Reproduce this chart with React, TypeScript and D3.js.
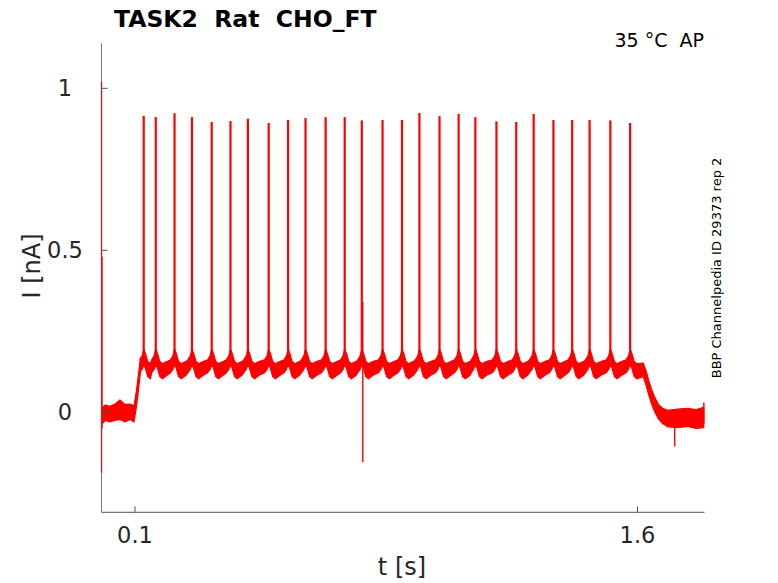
import React from 'react';
import * as d3 from 'd3';

// Spike train (t in s, peak current in nA)
const spikeTimes = [0.126, 0.162, 0.218, 0.270, 0.329, 0.385, 0.437, 0.499, 0.557, 0.609, 0.669, 0.726, 0.777, 0.839,
  0.897, 0.949, 1.009, 1.066, 1.116, 1.179, 1.238, 1.290, 1.349, 1.405, 1.457, 1.519, 1.578];
const spikePeaks = [0.915, 0.911, 0.923, 0.911, 0.896, 0.899, 0.906, 0.893, 0.902, 0.908, 0.911, 0.911, 0.901, 0.902,
  0.902, 0.924, 0.914, 0.921, 0.911, 0.898, 0.896, 0.921, 0.902, 0.902, 0.902, 0.901, 0.893];

// noisy band before the step: [t, upper, lower]
const preStep: [number, number, number][] = [
  [0.002, 0.015, -0.035], [0.012, 0.022, -0.025], [0.025, 0.018, -0.03], [0.04, 0.025, -0.025],
  [0.055, 0.038, -0.022], [0.07, 0.024, -0.03], [0.085, 0.025, -0.022], [0.097, 0.02, -0.03],
  [0.104, 0.065, 0.015], [0.110, 0.115, 0.065], [0.116, 0.165, 0.122],
];
// shape of the band around each spike: [dt from spike, upper, lower]
const ripple: [number, number, number][] = [
  [-0.012, 0.162, 0.122], [-0.005, 0.174, 0.132], [0, 0.195, 0.148], [0.005, 0.182, 0.136],
  [0.012, 0.157, 0.11], [0.02, 0.15, 0.103], [0.035, 0.157, 0.115],
];
// decay after the step
const postStep: [number, number, number][] = [
  [1.617, 0.152, 0.11], [1.625, 0.13, 0.085], [1.633, 0.1, 0.055], [1.642, 0.07, 0.025],
  [1.652, 0.045, 0.0], [1.662, 0.025, -0.02], [1.675, 0.012, -0.035], [1.69, 0.006, -0.045],
  [1.72, 0.01, -0.048], [1.75, 0.012, -0.044], [1.775, 0.008, -0.05], [1.798, 0.015, -0.048],
];
// artefacts: [t, from, to]
const glitches: [number, number, number][] = [
  [0.0, 1.02, -0.187], [0.0015, 0.48, -0.05], [0.780, 0.34, -0.154], [1.711, -0.02, -0.106], [1.798, 0.03, -0.035],
];

const xTicks = [0.1, 1.6];
const xTickLabels = ['0.1', '1.6'];
const yTicks = [0, 0.5, 1];
const yTickLabels = ['0', '0.5', '1'];

const font = '"DejaVu Sans", sans-serif';
const axisColor = '#555555';
const textColor = '#262626';

export default function App() {
  const x = d3.scaleLinear().domain([0, 1.8]).range([101.5, 704.5]);
  const y = d3.scaleLinear().domain([-0.309, 1.139]).range([512.3, 43.3]);

  // build the band from the pieces
  const band: [number, number, number][] = [...preStep];
  spikeTimes.forEach((s, i) => {
    const next = i < spikeTimes.length - 1 ? spikeTimes[i + 1] + ripple[0][0] : 1.612;
    ripple.forEach(([dt, up, lo]) => {
      const t = s + dt;
      if (t < next) band.push([t, up, lo]);
    });
  });
  band.push(...postStep);

  const area = d3.area<[number, number, number]>()
    .x(d => x(d[0]))
    .y0(d => y(d[2]))
    .y1(d => y(d[1]));

  return (
    <svg width={778} height={583} style={{ position: 'absolute', left: 0, top: 0, background: '#fff' }}>
      <path d={area(band) ?? ''} fill="#ff0000" stroke="#ff0000" strokeWidth={1.2} strokeLinejoin="round" />
      {spikeTimes.map((t, i) => (
        <line key={i} x1={x(t)} x2={x(t)} y1={y(0.17)} y2={y(spikePeaks[i])} stroke="#ff0000" strokeWidth={2.2} />
      ))}
      {glitches.map(([t, a, b], i) => (
        <line key={'g' + i} x1={x(t)} x2={x(t)} y1={y(a)} y2={y(b)} stroke="#ff0000" strokeWidth={1.4} />
      ))}

      {/* axes */}
      <line x1={x(0)} x2={x(0)} y1={y.range()[1]} y2={y.range()[0]} stroke={axisColor} strokeWidth={1} opacity={0.8} />
      <line x1={x(0)} x2={x(1.8)} y1={y.range()[0]} y2={y.range()[0]} stroke={axisColor} strokeWidth={1} />
      {yTicks.map((v, i) => (
        <g key={'y' + i}>
          <line x1={x(0)} x2={x(0) + 6} y1={y(v)} y2={y(v)} stroke={axisColor} />
          <text x={65} y={y(v)} dy="0.36em" textAnchor="middle" fontFamily={font} fontSize={22.5} fill={textColor}>
            {yTickLabels[i]}
          </text>
        </g>
      ))}
      {xTicks.map((v, i) => (
        <g key={'x' + i}>
          <line x1={x(v)} x2={x(v)} y1={y.range()[0]} y2={y.range()[0] - 6} stroke={axisColor} />
          <text x={x(v)} y={543} textAnchor="middle" fontFamily={font} fontSize={22.5} fill={textColor}>
            {xTickLabels[i]}
          </text>
        </g>
      ))}

      <text x={402} y={575} textAnchor="middle" fontFamily={font} fontSize={24} fill={textColor}>t [s]</text>
      <text transform="translate(40,266) rotate(-90)" textAnchor="middle" fontFamily={font} fontSize={24} fill={textColor}>I [nA]</text>

      <text x={114} y={27} fontFamily={font} fontSize={23.5} fontWeight="bold" fill="#000" style={{ whiteSpace: 'pre' }}>
        {'TASK2  Rat  CHO_FT'}
      </text>
      <text x={704} y={47} textAnchor="end" fontFamily={font} fontSize={19} fill="#000" style={{ whiteSpace: 'pre' }}>
        {'35 °C  AP'}
      </text>
      <text transform="translate(721,268) rotate(-90)" textAnchor="middle" fontFamily={font} fontSize={13} fill="#000">
        BBP Channelpedia ID 29373 rep 2
      </text>
    </svg>
  );
}
